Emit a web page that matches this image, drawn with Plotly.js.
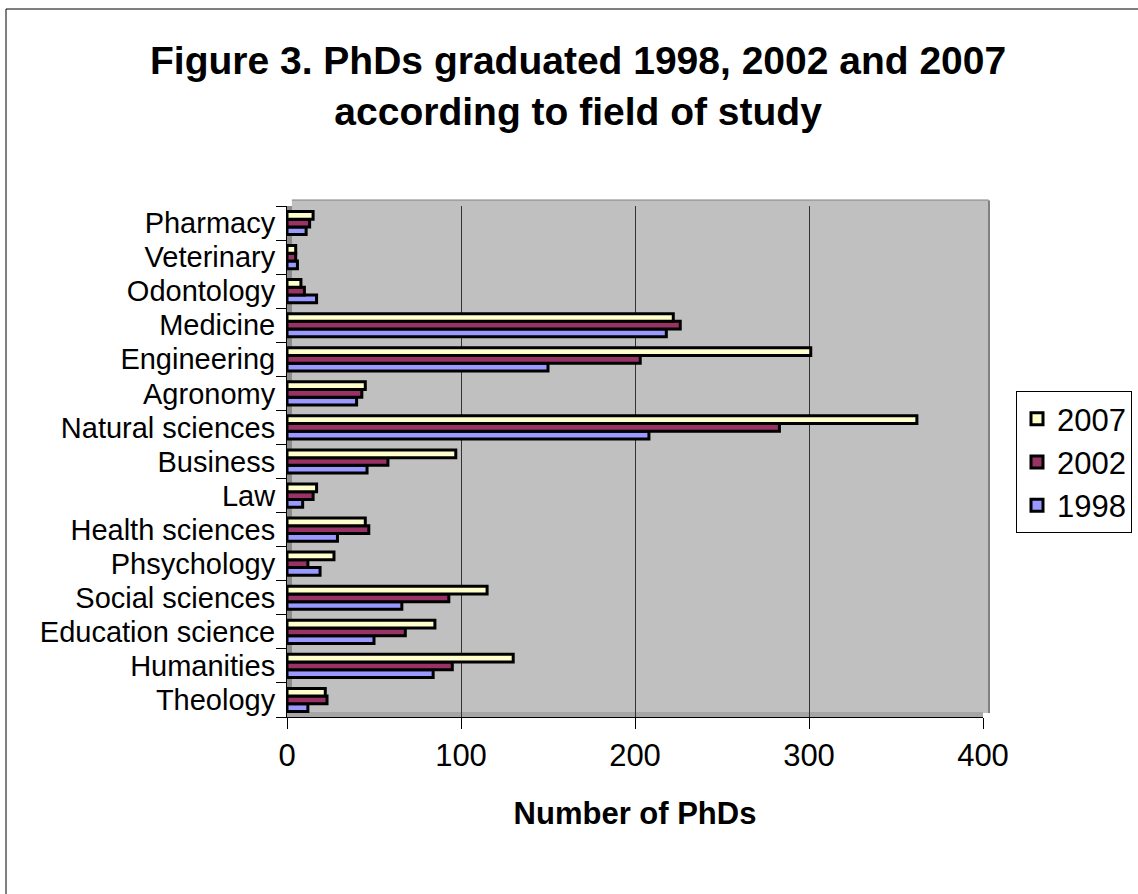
<!DOCTYPE html>
<html>
<head>
<meta charset="utf-8">
<script src="https://cdn.plot.ly/plotly-3.0.1.min.js"></script>
<style>
  html, body { margin: 0; padding: 0; background: #ffffff; }
  #chart { width: 1138px; height: 894px; }
</style>
</head>
<body>
<div id="chart"></div>
<script>
// Categories (bottom to top as drawn)
const categories = [
  "Theology", "Humanities", "Education science", "Social sciences", "Phsychology",
  "Health sciences", "Law", "Business", "Natural sciences", "Agronomy",
  "Engineering", "Medicine", "Odontology", "Veterinary", "Pharmacy"
];
const values2007 = [22, 130, 85, 115, 27, 45, 17, 97, 362, 45, 301, 222, 8, 5, 15];
const values2002 = [23, 95, 68, 93, 12, 47, 15, 58, 283, 43, 203, 226, 10, 5, 13];
const values1998 = [12, 84, 50, 66, 19, 29, 9, 46, 208, 40, 150, 218, 17, 6, 11];
const seriesNames = ["1998", "2002", "2007"];
const seriesColors = ["#9999FF", "#993366", "#FFFFCC"];
const legendRanks = [3, 2, 1];
const xTicks = [0, 100, 200, 300, 400];

const FONT = "Liberation Sans, Arial, Helvetica, sans-serif";
const seriesValues = [values1998, values2002, values2007];

const traces = seriesNames.map((name, i) => ({
  type: "bar",
  orientation: "h",
  name: name,
  y: categories,
  x: seriesValues[i],
  legendrank: legendRanks[i],
  marker: { color: seriesColors[i], line: { color: "#000000", width: 3 } },
  hoverinfo: "x+y+name"
}));

const W = 1138, H = 894;
const L = 287, R = 155, T = 206, B = 177;
const pw = W - L - R, ph = H - T - B;
const px2x = p => (p - L) / pw;
const py2y = p => (H - B - p) / ph;

const layout = {
  width: W,
  height: H,
  margin: { l: L, r: R, t: T, b: B, pad: 0, autoexpand: false },
  paper_bgcolor: "#ffffff",
  plot_bgcolor: "#C0C0C0",
  font: { family: FONT, color: "#000000", size: 29 },
  title: {
    text: "<b>Figure 3. PhDs graduated 1998, 2002 and 2007<br>according to field of study</b>",
    font: { family: FONT, size: 39, color: "#000000" },
    xref: "container", x: 0.508, xanchor: "center",
    yref: "container", y: 1 - 74 / H, yanchor: "top"
  },
  barmode: "group",
  bargap: 0.32,
  bargroupgap: 0,
  xaxis: {
    range: [0, 400],
    tickvals: xTicks,
    ticktext: xTicks.map(String),
    tickfont: { family: FONT, size: 31 },
    ticks: "outside", ticklen: 11, tickcolor: "#000000", tickwidth: 1,
    showline: true, linecolor: "#000000", linewidth: 1,
    showgrid: true, gridcolor: "#333333", gridwidth: 1,
    zeroline: false,
    title: {
      text: "<b>Number of PhDs</b>",
      font: { family: FONT, size: 31 },
      standoff: 30
    },
    fixedrange: true
  },
  yaxis: {
    type: "category",
    categoryorder: "array",
    categoryarray: categories,
    tickmode: "linear", tick0: 0, dtick: 1,
    tickfont: { family: FONT, size: 29 },
    ticks: "outside", ticklen: 10, tickcolor: "#000000", tickwidth: 1,
    tickson: "boundaries",
    ticklabelstandoff: 5,
    showline: true, linecolor: "#000000", linewidth: 1,
    showgrid: false, zeroline: false,
    fixedrange: true
  },
  legend: {
    xref: "container", x: 1016 / W, xanchor: "left",
    yref: "container", y: 1 - 391 / H, yanchor: "top",
    traceorder: "normal",
    bgcolor: "#ffffff",
    bordercolor: "#000000",
    borderwidth: 1,
    font: { family: FONT, size: 31 },
    itemwidth: 30
  },
  shapes: [
    // back wall extension up and right (3D depth)
    { type: "rect", xref: "paper", yref: "paper", ysizemode: "pixel", yanchor: 1,
      x0: 0.007, x1: 1.008, y0: 0, y1: 6, fillcolor: "#C0C0C0", line: { width: 0 }, layer: "below" },
    { type: "rect", xref: "paper", yref: "paper", xsizemode: "pixel", xanchor: 1,
      x0: 0, x1: 6, y0: 0.008, y1: 1.011, fillcolor: "#C0C0C0", line: { width: 0 }, layer: "below" },
    { type: "line", xref: "paper", yref: "paper", xsizemode: "pixel", xanchor: 1,
      x0: 6, x1: 6, y0: 0.008, y1: 1.011, line: { color: "#808080", width: 2 } },
    { type: "line", xref: "paper", yref: "paper", ysizemode: "pixel", yanchor: 1,
      x0: 0.007, x1: 1.008, y0: 6, y1: 6, line: { color: "#808080", width: 1 } },
    // 3D wall side (left)
    { type: "rect", xref: "paper", yref: "paper", xsizemode: "pixel", xanchor: 0,
      x0: 0, x1: 5, y0: 0, y1: 1, fillcolor: "#8C8C8C", line: { width: 0 }, layer: "below" },
    // 3D floor (bottom)
    { type: "rect", xref: "paper", yref: "paper", ysizemode: "pixel", yanchor: 0,
      x0: 0, x1: 1, y0: 0, y1: 5, fillcolor: "#A6A6A6", line: { width: 0 }, layer: "below" },
    // outer chart border (left and top edges visible)
    { type: "line", xref: "paper", yref: "paper",
      x0: px2x(6), x1: px2x(6), y0: py2y(9), y1: py2y(H + 20),
      line: { color: "#000000", width: 1 } },
    { type: "line", xref: "paper", yref: "paper",
      x0: px2x(6), x1: px2x(W + 20), y0: py2y(9), y1: py2y(9),
      line: { color: "#000000", width: 1 } }
  ],
  showlegend: true
};

Plotly.newPlot("chart", traces, layout, { displayModeBar: false, staticPlot: true });
</script>
</body>
</html>
